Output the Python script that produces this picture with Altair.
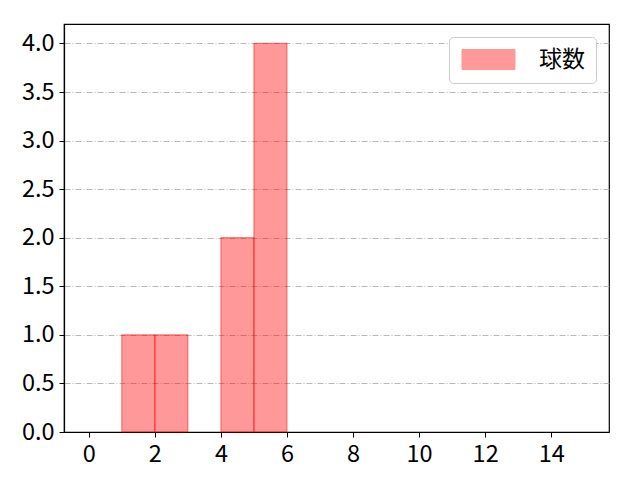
import altair as alt
import pandas as pd

bin_start = [1, 2, 4, 5]
bin_end = [2, 3, 5, 6]
counts = [1, 1, 2, 4]
series = ["球数"] * 4

x_ticks = [0, 2, 4, 6, 8, 10, 12, 14]
y_ticks = [0, 0.5, 1.0, 1.5, 2.0, 2.5, 3.0, 3.5, 4.0]

df = pd.DataFrame({"start": bin_start, "end": bin_end, "count": counts, "series": series})

FONT = "Noto Sans CJK JP"

bars = alt.Chart(df).mark_bar(
    fillOpacity=0.4, stroke="#ff0000", strokeOpacity=0.45, strokeWidth=1.2
).encode(
    x=alt.X("start:Q", scale=alt.Scale(domain=[-0.75, 15.75], nice=False, zero=False),
            axis=alt.Axis(values=x_ticks, title=None, grid=False, format="d")),
    x2="end:Q",
    y=alt.Y("count:Q", scale=alt.Scale(domain=[0, 4.2], nice=False),
            axis=alt.Axis(values=y_ticks, title=None, format=".1f", grid=True,
                          gridColor="#b0b0b0", gridDash=[6, 2, 1, 2], gridWidth=0.9)),
    y2=alt.datum(0),
    color=alt.Color("series:N", scale=alt.Scale(domain=["球数"], range=["#ff0000"]),
                    legend=alt.Legend(title=None, orient="top-right", offset=13,
                                      padding=11, strokeColor="#cccccc", cornerRadius=4,
                                      fillColor="white",
                                      symbolType="M-2.65,-1L2.65,-1L2.65,1L-2.65,1Z",
                                      symbolSize=400, symbolOpacity=0.4,
                                      symbolOffset=17,
                                      symbolStrokeColor="#ff0000", symbolStrokeWidth=1,
                                      labelFontSize=23, labelFont=FONT, labelOffset=39,
                                      labelColor="black")),
)

chart = bars.properties(
    width=545, height=408,
    autosize=alt.AutoSizeParams(type="none"),
    padding={"left": 56, "top": 16, "right": 23, "bottom": 40},
).configure_view(
    stroke="black", strokeWidth=1.2
).configure_axis(
    labelFont=FONT, labelFontSize=23.5, labelColor="black",
    domainColor="black", domainWidth=1.2, tickColor="black", tickSize=5, tickWidth=1,
    labelPadding=5,
)

chart.save("out.html", embed_options={"renderer": "svg", "actions": False})
